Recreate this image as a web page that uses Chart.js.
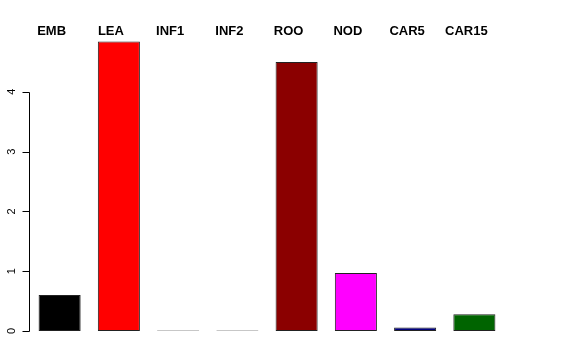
<!DOCTYPE html>
<html>
<head>
<meta charset="utf-8">
<script src="https://cdn.jsdelivr.net/npm/chart.js@4"></script>
<style>
html,body{margin:0;padding:0;background:#fff;}
#wrap{width:576px;height:360px;}
</style>
</head>
<body>
<div id="wrap"><canvas id="c" width="576" height="360"></canvas></div>
<script>
const categories = ["EMB","LEA","INF1","INF2","ROO","NOD","CAR5","CAR15"];
const values = [0.60, 4.84, 0.01, 0.01, 4.50, 0.97, 0.06, 0.28];
const barColors = ["#000000","#FF0000","#BEBEBE","#BEBEBE","#8B0000","#FF00FF","#000080","#006400"];
const yTicks = [0, 1, 2, 3, 4];

const rAxis = {
  id: 'rAxis',
  afterDraw(chart) {
    const ctx = chart.ctx;
    const y = chart.scales.y, x = chart.scales.x;
    const ax = chart.chartArea.left - 0.5;
    ctx.save();
    ctx.strokeStyle = '#000';
    ctx.lineWidth = 1;
    ctx.beginPath();
    const y0 = Math.round(y.getPixelForValue(yTicks[0])) + 0.5;
    const y1 = Math.round(y.getPixelForValue(yTicks[yTicks.length-1])) + 0.5;
    ctx.moveTo(ax, y0); ctx.lineTo(ax, y1);
    yTicks.forEach(t => {
      const py = Math.round(y.getPixelForValue(t)) + 0.5;
      ctx.moveTo(ax, py); ctx.lineTo(ax - 7, py);
    });
    ctx.stroke();
    ctx.fillStyle = '#000';
    ctx.font = '11px "Liberation Sans", Arial, sans-serif';
    ctx.textAlign = 'center';
    ctx.textBaseline = 'middle';
    yTicks.forEach(t => {
      const py = y.getPixelForValue(t);
      ctx.save();
      ctx.translate(12, py);
      ctx.rotate(-Math.PI/2);
      ctx.fillText(String(t), 0, 0);
      ctx.restore();
    });
    ctx.font = 'bold 13px "Liberation Sans", Arial, sans-serif';
    ctx.textBaseline = 'alphabetic';
    categories.forEach((c, i) => {
      const px = x.getPixelForValue(i);
      ctx.fillText(c, px - 8, 35);
    });
    ctx.restore();
  }
};

new Chart(document.getElementById('c'), {
  type: 'bar',
  data: {
    labels: categories,
    datasets: [{
      data: values,
      backgroundColor: barColors,
      borderColor: '#222222',
      borderWidth: 1,
      borderSkipped: false,
      barPercentage: 0.71,
      categoryPercentage: 1.0
    }]
  },
  options: {
    responsive: false,
    animation: false,
    devicePixelRatio: 1,
    layout: { padding: { left: 30, right: 72, top: 32, bottom: 29 } },
    plugins: { legend: { display: false }, tooltip: { enabled: false } },
    scales: {
      x: { display: false, offset: true },
      y: { display: false, min: 0, max: 5 }
    }
  },
  plugins: [rAxis]
});
</script>
</body>
</html>
